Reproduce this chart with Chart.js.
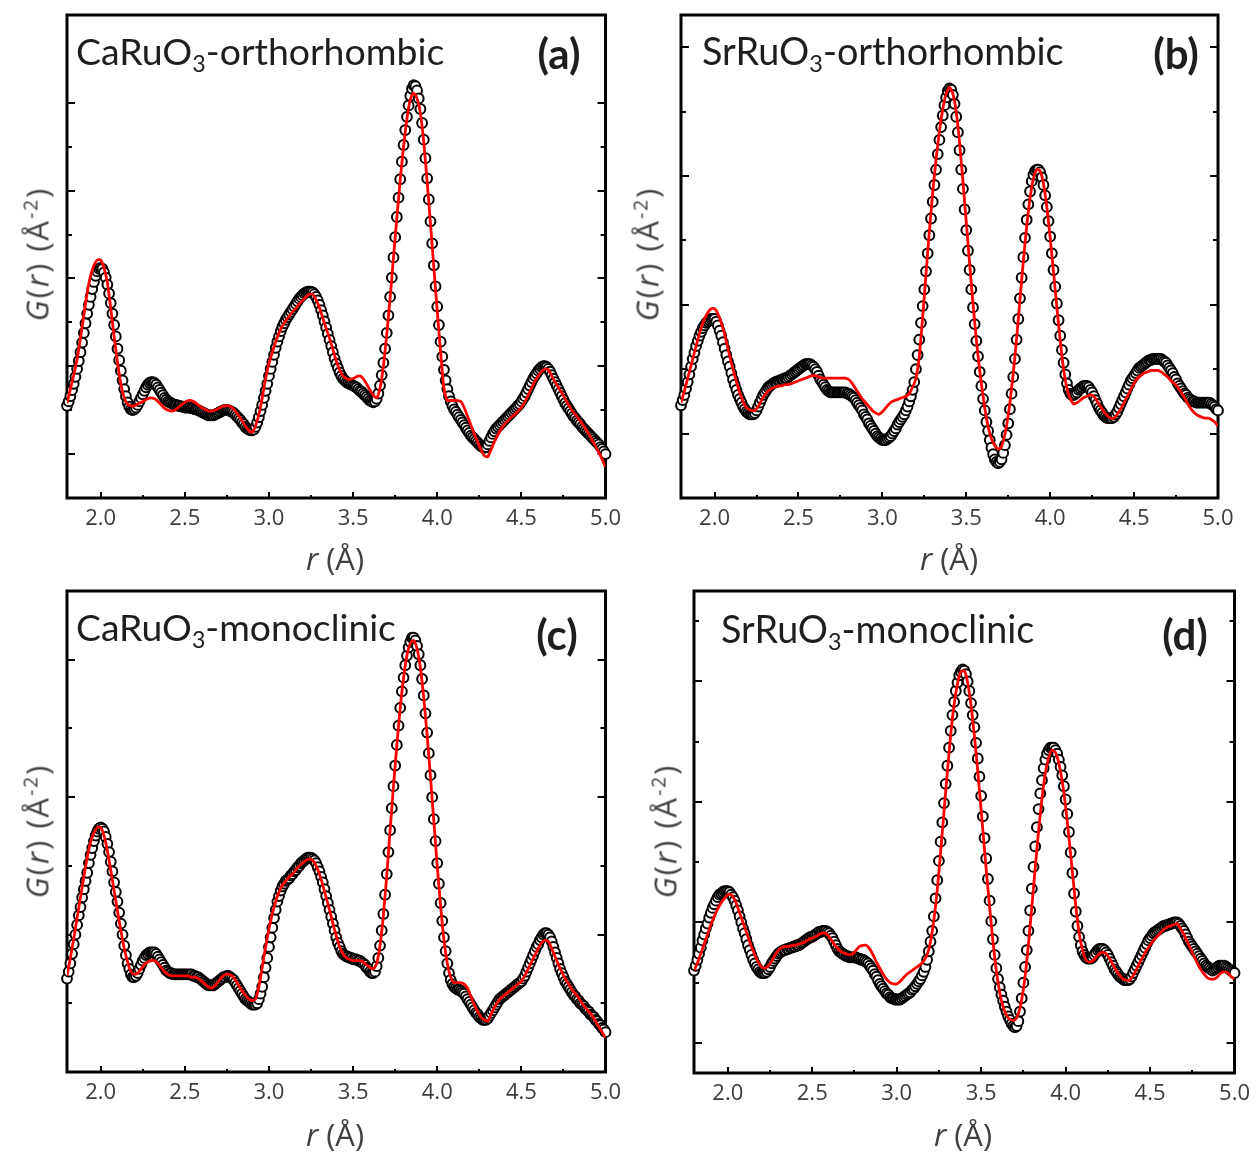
<!DOCTYPE html>
<html>
<head>
<meta charset="utf-8">
<script src="https://cdn.jsdelivr.net/npm/chart.js"></script>
<style>
  html, body { margin: 0; padding: 0; background: #fff; }
  #fig { position: relative; width: 1258px; height: 1156px; overflow: hidden; background: #fff; }
  #fig canvas { position: absolute; }
  .lbl { position: absolute; white-space: nowrap; line-height: 1; }
  .cmp { font-family: Lato, "Open Sans", sans-serif; font-size: 36px; color: #1e1e1e; }
  .cmp .sb { font-size: 0.62em; position: relative; top: 0.3em; }
  .bl { display: inline-block; width: 0; height: 0; vertical-align: baseline; }
  .tag { font-family: Lato, sans-serif; font-weight: 700; font-size: 42px; color: #1e1e1e; transform: translate(-50%, -50%); }
  .xt { font-family: "Open Sans", sans-serif; font-size: 31px; color: #404040; transform: translate(-50%, -50%); }
  .yt { font-family: "Open Sans", sans-serif; font-size: 31px; color: #404040; letter-spacing: 2px; transform: translate(-50%, -50%) rotate(-90deg); }
  .yt .sp { font-size: 0.62em; position: relative; top: -0.55em; }
</style>
</head>
<body>
<div id="fig">
  <canvas id="ca" width="629" height="578" style="left:0;top:0"></canvas>
  <canvas id="cb" width="629" height="578" style="left:629px;top:0"></canvas>
  <canvas id="cc" width="629" height="578" style="left:0;top:578px"></canvas>
  <canvas id="cd" width="629" height="578" style="left:629px;top:578px"></canvas>

  <div class="lbl cmp" data-w="368" data-base="65" style="left:76px;top:33px">CaRuO<span class="sb">3</span>-orthorhombic<span class="bl"></span></div>
  <div class="lbl cmp" data-w="362" data-base="65" style="left:702px;top:33px">SrRuO<span class="sb">3</span>-orthorhombic<span class="bl"></span></div>
  <div class="lbl cmp" data-w="320" data-base="641" style="left:76px;top:609px">CaRuO<span class="sb">3</span>-monoclinic<span class="bl"></span></div>
  <div class="lbl cmp" data-w="313" data-base="643" style="left:721px;top:611px">SrRuO<span class="sb">3</span>-monoclinic<span class="bl"></span></div>

  <div class="lbl tag" style="left:559px;top:53px">(a)</div>
  <div class="lbl tag" style="left:1176px;top:53px">(b)</div>
  <div class="lbl tag" style="left:557px;top:634px">(c)</div>
  <div class="lbl tag" style="left:1185px;top:634px">(d)</div>

  <div class="lbl xt" style="left:335px;top:558px"><i>r</i> (Å)</div>
  <div class="lbl xt" style="left:949px;top:558px"><i>r</i> (Å)</div>
  <div class="lbl xt" style="left:335px;top:1134px"><i>r</i> (Å)</div>
  <div class="lbl xt" style="left:963px;top:1134px"><i>r</i> (Å)</div>

  <div class="lbl yt" style="left:37px;top:254px"><i>G</i>(<i>r</i>) (Å<span class="sp">-2</span>)</div>
  <div class="lbl yt" style="left:647px;top:254px"><i>G</i>(<i>r</i>) (Å<span class="sp">-2</span>)</div>
  <div class="lbl yt" style="left:37px;top:831px"><i>G</i>(<i>r</i>) (Å<span class="sp">-2</span>)</div>
  <div class="lbl yt" style="left:665px;top:831px"><i>G</i>(<i>r</i>) (Å<span class="sp">-2</span>)</div>
</div>

<script>
// r grid: measured points every 0.01 Å, fitted curve every 0.02 Å, both from 1.8 Å
const rStart = 1.8;
const dataStep = 0.01;
const fitStep = 0.02;

const xTicksMajor = [2.0, 2.5, 3.0, 3.5, 4.0, 4.5, 5.0];
const xTicksMinor = [2.25, 2.75, 3.25, 3.75, 4.25, 4.75];

// (a) CaRuO3 orthorhombic
const obsA = [
  0.55,0.60,0.66,0.73,0.80,0.88,0.97,1.06,1.16,1.27,
  1.38,1.49,1.60,1.70,1.79,1.88,1.96,2.03,2.08,2.11,
  2.12,2.11,2.07,2.01,1.93,1.83,1.72,1.60,1.47,1.34,
  1.20,1.07,0.95,0.84,0.74,0.66,0.59,0.54,0.51,0.50,
  0.51,0.53,0.56,0.60,0.64,0.68,0.72,0.76,0.79,0.81,
  0.82,0.82,0.81,0.79,0.76,0.73,0.70,0.67,0.64,0.62,
  0.60,0.59,0.58,0.57,0.56,0.56,0.55,0.55,0.54,0.54,
  0.53,0.53,0.53,0.53,0.52,0.52,0.51,0.51,0.50,0.49,
  0.48,0.47,0.46,0.45,0.44,0.44,0.44,0.44,0.45,0.46,
  0.47,0.48,0.49,0.50,0.50,0.50,0.50,0.49,0.48,0.47,
  0.45,0.43,0.41,0.39,0.36,0.34,0.31,0.29,0.28,0.27,
  0.27,0.28,0.31,0.36,0.42,0.49,0.56,0.64,0.72,0.80,
  0.89,0.97,1.05,1.13,1.21,1.28,1.34,1.40,1.45,1.49,
  1.53,1.56,1.59,1.62,1.65,1.68,1.71,1.74,1.77,1.79,
  1.81,1.83,1.84,1.85,1.85,1.85,1.84,1.82,1.79,1.75,
  1.70,1.64,1.58,1.51,1.44,1.37,1.30,1.23,1.16,1.09,
  1.03,0.98,0.93,0.89,0.86,0.84,0.82,0.81,0.80,0.79,
  0.78,0.77,0.76,0.74,0.72,0.71,0.69,0.67,0.65,0.63,
  0.61,0.60,0.59,0.60,0.63,0.69,0.78,0.90,1.04,1.20,
  1.38,1.58,1.79,2.01,2.24,2.47,2.70,2.92,3.13,3.33,
  3.52,3.69,3.84,3.97,4.08,4.16,4.20,4.19,4.14,4.05,
  3.93,3.77,3.58,3.37,3.14,2.90,2.65,2.40,2.15,1.91,
  1.68,1.47,1.28,1.11,0.96,0.84,0.74,0.66,0.60,0.55,
  0.51,0.48,0.45,0.42,0.39,0.36,0.33,0.30,0.27,0.24,
  0.21,0.19,0.17,0.15,0.13,0.11,0.09,0.08,0.07,0.08,
  0.11,0.15,0.19,0.23,0.26,0.29,0.31,0.33,0.35,0.37,
  0.39,0.41,0.43,0.45,0.47,0.49,0.51,0.53,0.55,0.57,
  0.60,0.63,0.66,0.70,0.74,0.78,0.82,0.86,0.89,0.92,
  0.95,0.97,0.99,1.00,1.00,0.99,0.97,0.94,0.90,0.86,
  0.82,0.78,0.74,0.70,0.66,0.62,0.58,0.55,0.52,0.49,
  0.46,0.43,0.41,0.38,0.36,0.34,0.31,0.29,0.27,0.25,
  0.23,0.21,0.19,0.17,0.15,0.13,0.11,0.08,0.06,0.03,
  0.00
];
const calcA = [
  0.58,0.74,0.90,1.08,1.32,1.58,1.84,2.03,2.15,2.21,
  2.21,2.12,1.95,1.66,1.34,1.05,0.80,0.64,0.57,0.55,
  0.55,0.57,0.59,0.61,0.63,0.64,0.63,0.60,0.56,0.52,
  0.50,0.49,0.50,0.53,0.56,0.59,0.61,0.61,0.59,0.56,
  0.53,0.51,0.49,0.49,0.50,0.52,0.54,0.55,0.55,0.53,
  0.49,0.44,0.38,0.32,0.27,0.25,0.32,0.45,0.64,0.86,
  1.03,1.16,1.28,1.38,1.46,1.52,1.57,1.62,1.66,1.71,
  1.75,1.79,1.82,1.82,1.76,1.67,1.55,1.43,1.32,1.19,
  1.06,0.96,0.89,0.86,0.85,0.86,0.88,0.89,0.86,0.80,
  0.73,0.67,0.64,0.75,1.00,1.36,1.78,2.24,2.69,3.12,
  3.50,3.82,4.04,4.11,4.05,3.88,3.55,3.10,2.62,2.12,
  1.63,1.16,0.75,0.61,0.61,0.61,0.61,0.60,0.53,0.43,
  0.33,0.23,0.14,0.05,-0.02,-0.03,0.05,0.14,0.22,0.29,
  0.34,0.38,0.42,0.45,0.49,0.53,0.59,0.67,0.75,0.83,
  0.89,0.94,0.97,0.96,0.89,0.82,0.76,0.70,0.63,0.56,
  0.50,0.45,0.40,0.35,0.29,0.23,0.16,0.09,0.02,-0.06,
  -0.15
];

// (b) SrRuO3 orthorhombic
const obsB = [
  0.22,0.26,0.30,0.35,0.40,0.46,0.52,0.58,0.63,0.68,
  0.72,0.76,0.79,0.82,0.84,0.86,0.87,0.88,0.89,0.89,
  0.89,0.87,0.84,0.80,0.76,0.71,0.66,0.61,0.56,0.52,
  0.47,0.42,0.38,0.34,0.30,0.27,0.24,0.21,0.19,0.17,
  0.16,0.15,0.15,0.15,0.16,0.18,0.21,0.24,0.27,0.30,
  0.32,0.34,0.36,0.37,0.38,0.39,0.40,0.40,0.41,0.41,
  0.42,0.42,0.43,0.43,0.44,0.45,0.46,0.47,0.48,0.49,
  0.50,0.51,0.52,0.53,0.54,0.54,0.54,0.54,0.53,0.52,
  0.50,0.48,0.45,0.42,0.40,0.38,0.36,0.34,0.33,0.32,
  0.32,0.32,0.32,0.32,0.32,0.32,0.32,0.32,0.32,0.31,
  0.31,0.30,0.29,0.28,0.26,0.24,0.22,0.20,0.18,0.15,
  0.13,0.11,0.08,0.06,0.04,0.02,0.00,-0.02,-0.03,-0.04,
  -0.05,-0.05,-0.05,-0.04,-0.03,-0.02,0.00,0.02,0.04,0.07,
  0.09,0.11,0.13,0.15,0.18,0.21,0.25,0.29,0.34,0.40,
  0.50,0.61,0.73,0.86,0.99,1.12,1.26,1.40,1.54,1.67,
  1.80,1.93,2.05,2.17,2.28,2.38,2.47,2.55,2.61,2.66,
  2.68,2.67,2.63,2.56,2.46,2.34,2.20,2.05,1.90,1.74,
  1.58,1.42,1.27,1.12,0.98,0.85,0.72,0.60,0.48,0.37,
  0.27,0.18,0.09,0.02,-0.05,-0.11,-0.16,-0.20,-0.22,-0.23,
  -0.22,-0.20,-0.15,-0.09,-0.01,0.08,0.19,0.31,0.44,0.58,
  0.73,0.89,1.05,1.21,1.37,1.52,1.66,1.78,1.88,1.96,
  2.01,2.04,2.05,2.05,2.03,1.99,1.93,1.85,1.76,1.65,
  1.53,1.40,1.27,1.14,1.01,0.88,0.76,0.65,0.55,0.46,
  0.39,0.34,0.31,0.30,0.30,0.31,0.32,0.34,0.35,0.36,
  0.37,0.37,0.37,0.36,0.34,0.32,0.29,0.26,0.23,0.20,
  0.18,0.16,0.14,0.13,0.12,0.12,0.12,0.12,0.13,0.15,
  0.17,0.20,0.23,0.26,0.29,0.32,0.35,0.38,0.41,0.43,
  0.45,0.47,0.49,0.51,0.52,0.53,0.54,0.55,0.56,0.57,
  0.57,0.58,0.58,0.58,0.58,0.58,0.58,0.57,0.56,0.55,
  0.53,0.51,0.49,0.47,0.44,0.42,0.39,0.37,0.35,0.33,
  0.31,0.30,0.28,0.27,0.26,0.25,0.25,0.24,0.24,0.24,
  0.24,0.24,0.24,0.24,0.24,0.24,0.23,0.22,0.21,0.19,
  0.18
];
const calcB = [
  0.24,0.33,0.43,0.53,0.63,0.73,0.82,0.89,0.94,0.97,
  0.97,0.93,0.86,0.77,0.66,0.55,0.45,0.36,0.28,0.22,
  0.19,0.18,0.18,0.21,0.26,0.30,0.33,0.35,0.36,0.37,
  0.37,0.38,0.38,0.39,0.40,0.41,0.42,0.43,0.44,0.45,
  0.45,0.44,0.43,0.43,0.43,0.43,0.43,0.43,0.43,0.43,
  0.42,0.39,0.35,0.31,0.27,0.24,0.21,0.18,0.16,0.15,
  0.17,0.20,0.23,0.25,0.26,0.27,0.28,0.29,0.31,0.36,
  0.43,0.60,0.90,1.24,1.57,1.87,2.13,2.35,2.52,2.64,
  2.69,2.64,2.50,2.26,1.96,1.64,1.32,1.01,0.73,0.49,
  0.29,0.12,0.00,-0.07,-0.11,-0.12,-0.06,0.06,0.24,0.47,
  0.74,1.04,1.34,1.61,1.83,1.98,2.05,2.04,1.94,1.76,
  1.52,1.25,0.98,0.72,0.50,0.35,0.27,0.23,0.24,0.26,
  0.28,0.29,0.30,0.29,0.25,0.21,0.17,0.14,0.12,0.12,
  0.15,0.19,0.24,0.29,0.34,0.39,0.43,0.45,0.47,0.48,
  0.49,0.49,0.49,0.48,0.46,0.44,0.41,0.39,0.36,0.32,
  0.28,0.23,0.19,0.16,0.14,0.13,0.12,0.12,0.11,0.09,
  0.06
];

// (c) CaRuO3 monoclinic
const obsC = [
  -0.32,-0.27,-0.21,-0.14,-0.07,0.00,0.07,0.14,0.20,0.27,
  0.33,0.39,0.45,0.52,0.58,0.63,0.68,0.72,0.75,0.77,
  0.78,0.77,0.75,0.71,0.66,0.60,0.53,0.46,0.38,0.31,
  0.24,0.16,0.08,0.00,-0.08,-0.15,-0.21,-0.25,-0.29,-0.31,
  -0.31,-0.30,-0.28,-0.25,-0.22,-0.19,-0.17,-0.15,-0.14,-0.13,
  -0.13,-0.13,-0.13,-0.14,-0.16,-0.18,-0.20,-0.22,-0.24,-0.26,
  -0.27,-0.28,-0.28,-0.29,-0.29,-0.29,-0.29,-0.29,-0.29,-0.29,
  -0.29,-0.29,-0.29,-0.29,-0.29,-0.30,-0.30,-0.31,-0.31,-0.32,
  -0.33,-0.34,-0.35,-0.36,-0.37,-0.37,-0.37,-0.37,-0.36,-0.35,
  -0.34,-0.33,-0.32,-0.31,-0.31,-0.30,-0.30,-0.31,-0.32,-0.33,
  -0.35,-0.37,-0.39,-0.41,-0.43,-0.45,-0.47,-0.48,-0.49,-0.50,
  -0.51,-0.51,-0.51,-0.50,-0.47,-0.43,-0.38,-0.31,-0.24,-0.17,
  -0.09,-0.02,0.05,0.12,0.18,0.24,0.28,0.32,0.35,0.37,
  0.39,0.40,0.41,0.43,0.44,0.46,0.47,0.49,0.50,0.52,
  0.53,0.54,0.55,0.56,0.56,0.56,0.55,0.54,0.52,0.49,
  0.46,0.42,0.38,0.33,0.28,0.23,0.18,0.13,0.08,0.03,
  -0.02,-0.06,-0.09,-0.12,-0.14,-0.15,-0.16,-0.16,-0.17,-0.17,
  -0.18,-0.18,-0.18,-0.19,-0.19,-0.20,-0.21,-0.22,-0.24,-0.25,
  -0.27,-0.28,-0.28,-0.27,-0.23,-0.17,-0.08,0.03,0.15,0.29,
  0.44,0.60,0.76,0.92,1.08,1.23,1.38,1.52,1.65,1.77,
  1.87,1.96,2.03,2.09,2.13,2.16,2.16,2.14,2.10,2.04,
  1.96,1.86,1.74,1.61,1.47,1.32,1.16,1.00,0.84,0.68,
  0.52,0.37,0.23,0.10,-0.02,-0.12,-0.21,-0.28,-0.33,-0.36,
  -0.38,-0.39,-0.40,-0.40,-0.41,-0.42,-0.43,-0.45,-0.47,-0.49,
  -0.51,-0.53,-0.55,-0.57,-0.58,-0.60,-0.61,-0.62,-0.62,-0.62,
  -0.61,-0.59,-0.57,-0.55,-0.53,-0.51,-0.49,-0.47,-0.46,-0.45,
  -0.44,-0.43,-0.42,-0.41,-0.40,-0.39,-0.38,-0.37,-0.36,-0.35,
  -0.34,-0.32,-0.30,-0.27,-0.24,-0.21,-0.18,-0.15,-0.12,-0.09,
  -0.07,-0.04,-0.02,0.00,0.01,0.01,0.00,-0.02,-0.05,-0.09,
  -0.13,-0.17,-0.21,-0.25,-0.28,-0.31,-0.34,-0.36,-0.38,-0.40,
  -0.42,-0.44,-0.45,-0.47,-0.48,-0.50,-0.51,-0.52,-0.54,-0.55,
  -0.56,-0.58,-0.59,-0.60,-0.62,-0.63,-0.65,-0.66,-0.68,-0.69,
  -0.71
];
const calcC = [
  -0.30,-0.17,-0.03,0.12,0.27,0.42,0.56,0.67,0.74,0.78,
  0.78,0.72,0.61,0.47,0.32,0.17,0.03,-0.10,-0.20,-0.27,
  -0.29,-0.28,-0.25,-0.22,-0.20,-0.19,-0.19,-0.21,-0.24,-0.27,
  -0.29,-0.30,-0.30,-0.30,-0.30,-0.30,-0.30,-0.31,-0.31,-0.32,
  -0.34,-0.36,-0.38,-0.39,-0.37,-0.34,-0.31,-0.29,-0.29,-0.30,
  -0.33,-0.37,-0.41,-0.44,-0.47,-0.48,-0.47,-0.38,-0.24,-0.09,
  0.04,0.15,0.24,0.31,0.36,0.39,0.42,0.44,0.47,0.50,
  0.52,0.54,0.55,0.54,0.50,0.44,0.36,0.27,0.18,0.08,
  -0.01,-0.09,-0.14,-0.17,-0.18,-0.19,-0.19,-0.19,-0.20,-0.22,
  -0.24,-0.25,-0.21,-0.08,0.14,0.43,0.76,1.08,1.38,1.65,
  1.87,2.03,2.12,2.14,2.08,1.94,1.72,1.45,1.14,0.82,
  0.50,0.21,-0.04,-0.21,-0.31,-0.35,-0.35,-0.35,-0.36,-0.39,
  -0.45,-0.51,-0.56,-0.60,-0.62,-0.63,-0.58,-0.53,-0.49,-0.46,
  -0.44,-0.42,-0.40,-0.38,-0.36,-0.34,-0.30,-0.25,-0.20,-0.15,
  -0.10,-0.06,-0.04,-0.05,-0.10,-0.16,-0.22,-0.27,-0.32,-0.36,
  -0.40,-0.43,-0.46,-0.50,-0.53,-0.56,-0.59,-0.63,-0.67,-0.71,
  -0.75
];

// (d) SrRuO3 monoclinic
const obsD = [
  0.60,0.64,0.69,0.74,0.79,0.85,0.90,0.95,0.99,1.04,
  1.08,1.12,1.15,1.18,1.21,1.23,1.24,1.25,1.26,1.26,
  1.26,1.25,1.23,1.21,1.18,1.14,1.10,1.05,1.00,0.95,
  0.91,0.86,0.81,0.77,0.73,0.69,0.66,0.63,0.61,0.59,
  0.58,0.58,0.58,0.59,0.61,0.63,0.66,0.68,0.70,0.72,
  0.74,0.75,0.76,0.77,0.77,0.78,0.78,0.79,0.79,0.80,
  0.80,0.81,0.81,0.82,0.83,0.84,0.85,0.86,0.87,0.88,
  0.88,0.89,0.90,0.91,0.92,0.92,0.93,0.93,0.93,0.92,
  0.91,0.89,0.87,0.84,0.81,0.78,0.76,0.75,0.74,0.73,
  0.72,0.72,0.71,0.71,0.71,0.71,0.71,0.70,0.70,0.69,
  0.69,0.68,0.67,0.66,0.64,0.62,0.60,0.57,0.55,0.52,
  0.49,0.47,0.45,0.43,0.41,0.40,0.38,0.37,0.37,0.36,
  0.36,0.36,0.36,0.37,0.38,0.39,0.40,0.41,0.42,0.44,
  0.45,0.47,0.49,0.51,0.53,0.56,0.59,0.63,0.69,0.76,
  0.84,0.93,1.05,1.20,1.35,1.51,1.67,1.83,1.99,2.15,
  2.30,2.45,2.59,2.72,2.83,2.92,2.99,3.05,3.08,3.10,
  3.09,3.06,3.00,2.92,2.82,2.72,2.62,2.49,2.36,2.21,
  2.05,1.88,1.70,1.53,1.36,1.18,1.01,0.86,0.73,0.62,
  0.53,0.46,0.40,0.35,0.30,0.26,0.22,0.19,0.16,0.14,
  0.13,0.14,0.18,0.26,0.37,0.50,0.63,0.77,0.93,1.10,
  1.28,1.46,1.63,1.79,1.94,2.07,2.18,2.28,2.35,2.40,
  2.43,2.45,2.45,2.45,2.43,2.40,2.35,2.29,2.22,2.13,
  2.02,1.90,1.75,1.58,1.41,1.24,1.09,0.97,0.88,0.81,
  0.76,0.73,0.71,0.70,0.70,0.70,0.71,0.73,0.75,0.77,
  0.78,0.78,0.78,0.77,0.75,0.73,0.70,0.67,0.64,0.61,
  0.59,0.57,0.55,0.54,0.53,0.52,0.52,0.52,0.53,0.55,
  0.58,0.61,0.64,0.67,0.70,0.73,0.76,0.79,0.82,0.85,
  0.87,0.89,0.91,0.92,0.93,0.94,0.95,0.96,0.97,0.97,
  0.98,0.98,0.99,0.99,1.00,1.00,1.00,0.99,0.97,0.95,
  0.93,0.90,0.87,0.84,0.82,0.80,0.78,0.76,0.74,0.72,
  0.70,0.68,0.66,0.64,0.63,0.62,0.61,0.60,0.61,0.62,
  0.63,0.64,0.64,0.64,0.64,0.63,0.62,0.61,0.60,0.59,
  0.58
];
const calcD = [
  0.60,0.66,0.74,0.82,0.90,0.98,1.05,1.11,1.16,1.20,
  1.23,1.23,1.19,1.12,1.04,0.96,0.88,0.80,0.73,0.67,
  0.63,0.62,0.64,0.68,0.73,0.77,0.79,0.80,0.80,0.81,
  0.81,0.82,0.83,0.84,0.86,0.87,0.88,0.90,0.91,0.91,
  0.88,0.84,0.80,0.77,0.75,0.74,0.73,0.74,0.77,0.80,
  0.81,0.81,0.78,0.73,0.67,0.62,0.57,0.53,0.50,0.49,
  0.49,0.51,0.54,0.57,0.59,0.61,0.63,0.65,0.68,0.73,
  0.84,1.02,1.27,1.58,1.92,2.25,2.56,2.81,2.98,3.08,
  3.09,2.99,2.80,2.55,2.25,1.93,1.60,1.28,0.98,0.71,
  0.50,0.35,0.26,0.21,0.19,0.19,0.24,0.36,0.55,0.82,
  1.13,1.45,1.76,2.03,2.24,2.37,2.43,2.41,2.32,2.17,
  1.96,1.70,1.42,1.14,0.91,0.77,0.69,0.67,0.68,0.71,
  0.74,0.75,0.74,0.70,0.65,0.60,0.56,0.53,0.52,0.52,
  0.56,0.61,0.67,0.72,0.77,0.81,0.85,0.88,0.91,0.94,
  0.96,0.97,0.98,0.99,0.95,0.90,0.84,0.78,0.72,0.66,
  0.61,0.57,0.54,0.53,0.53,0.55,0.58,0.59,0.58,0.55,
  0.53
];

// inward tick marks on left/right (y) and bottom (x), then the heavy frame
const framePlugin = {
  id: 'frame',
  beforeDatasetsDraw(chart, args, opts) {
    const { ctx, chartArea: a, scales: { x, y } } = chart;
    ctx.save();
    ctx.strokeStyle = '#000';
    ctx.lineWidth = 2;
    ctx.beginPath();
    opts.yTicks.forEach(v => {
      const py = Math.round(y.getPixelForValue(v));
      const len = Number.isInteger(v) ? 8 : 5;
      ctx.moveTo(a.left, py); ctx.lineTo(a.left + len, py);
      ctx.moveTo(a.right, py); ctx.lineTo(a.right - len, py);
    });
    xTicksMajor.forEach(v => {
      const px = Math.round(x.getPixelForValue(v));
      ctx.moveTo(px, a.bottom); ctx.lineTo(px, a.bottom - 6);
    });
    xTicksMinor.forEach(v => {
      const px = Math.round(x.getPixelForValue(v));
      ctx.moveTo(px, a.bottom); ctx.lineTo(px, a.bottom - 3);
    });
    ctx.stroke();
    ctx.lineWidth = 3;
    ctx.strokeRect(a.left, a.top, a.right - a.left, a.bottom - a.top);
    ctx.restore();
  }
};

function toPoints(vals, step) {
  return vals.map((v, i) => ({ x: +(rStart + i * step).toFixed(2), y: v }));
}

const panels = [
  { id: 'ca', obs: obsA, calc: calcA, yMin: -0.5, yMax: 5.0,
    yTicks: [0, 0.5, 1, 1.5, 2, 2.5, 3, 3.5, 4], pad: { left: 67, right: 23, top: 15, bottom: 0 }, axisH: 80 },
  { id: 'cb', obs: obsB, calc: calcB, yMin: -0.5, yMax: 3.25,
    yTicks: [0, 0.5, 1, 1.5, 2, 2.5, 3], pad: { left: 52, right: 40, top: 15, bottom: 0 }, axisH: 80 },
  { id: 'cc', obs: obsC, calc: calcC, yMin: -1.0, yMax: 2.5,
    yTicks: [-0.5, 0, 0.5, 1, 1.5, 2], pad: { left: 67, right: 23, top: 13, bottom: 0 }, axisH: 84 },
  { id: 'cd', obs: obsD, calc: calcD, yMin: -0.25, yMax: 3.75,
    yTicks: [0, 0.5, 1, 1.5, 2, 2.5, 3, 3.5], pad: { left: 65, right: 23, top: 13, bottom: 0 }, axisH: 83 }
];

panels.forEach(p => {
  new Chart(document.getElementById(p.id), {
    type: 'scatter',
    data: {
      datasets: [
        {
          label: 'fit',
          data: toPoints(p.calc, fitStep),
          showLine: true,
          borderColor: '#ff0000',
          borderWidth: 2.8,
          pointRadius: 0,
          tension: 0.2,
          order: 0
        },
        {
          label: 'data',
          data: toPoints(p.obs, dataStep),
          showLine: false,
          pointRadius: 4.9,
          pointBorderWidth: 2,
          pointBorderColor: '#000',
          pointBackgroundColor: '#fff',
          clip: false,
          order: 1
        }
      ]
    },
    options: {
      responsive: false,
      animation: false,
      devicePixelRatio: 1,
      events: [],
      layout: { padding: p.pad },
      plugins: {
        legend: { display: false },
        tooltip: { enabled: false },
        frame: { yTicks: p.yTicks }
      },
      scales: {
        x: {
          type: 'linear',
          min: 1.8,
          max: 5.0,
          grid: { display: false, drawTicks: false },
          border: { display: false },
          ticks: {
            font: { family: 'Open Sans', size: 22 },
            color: '#3c3c3c',
            padding: 8,
            maxRotation: 0,
            callback: v => v.toFixed(1)
          },
          afterBuildTicks: s => { s.ticks = xTicksMajor.map(v => ({ value: v })); },
          afterFit: s => { s.height = p.axisH; }
        },
        y: { type: 'linear', min: p.yMin, max: p.yMax, display: false }
      }
    },
    plugins: [framePlugin]
  });
});

// size the sample names to the reference widths and sit them on their baselines
const figTop = document.getElementById('fig').getBoundingClientRect().top;
document.querySelectorAll('.cmp').forEach(el => {
  const fs = parseFloat(getComputedStyle(el).fontSize);
  el.style.fontSize = (fs * (+el.dataset.w) / el.offsetWidth) + 'px';
  const base = el.querySelector('.bl').getBoundingClientRect().top - figTop;
  el.style.top = (parseFloat(el.style.top) + (+el.dataset.base - base)) + 'px';
});
</script>
</body>
</html>
